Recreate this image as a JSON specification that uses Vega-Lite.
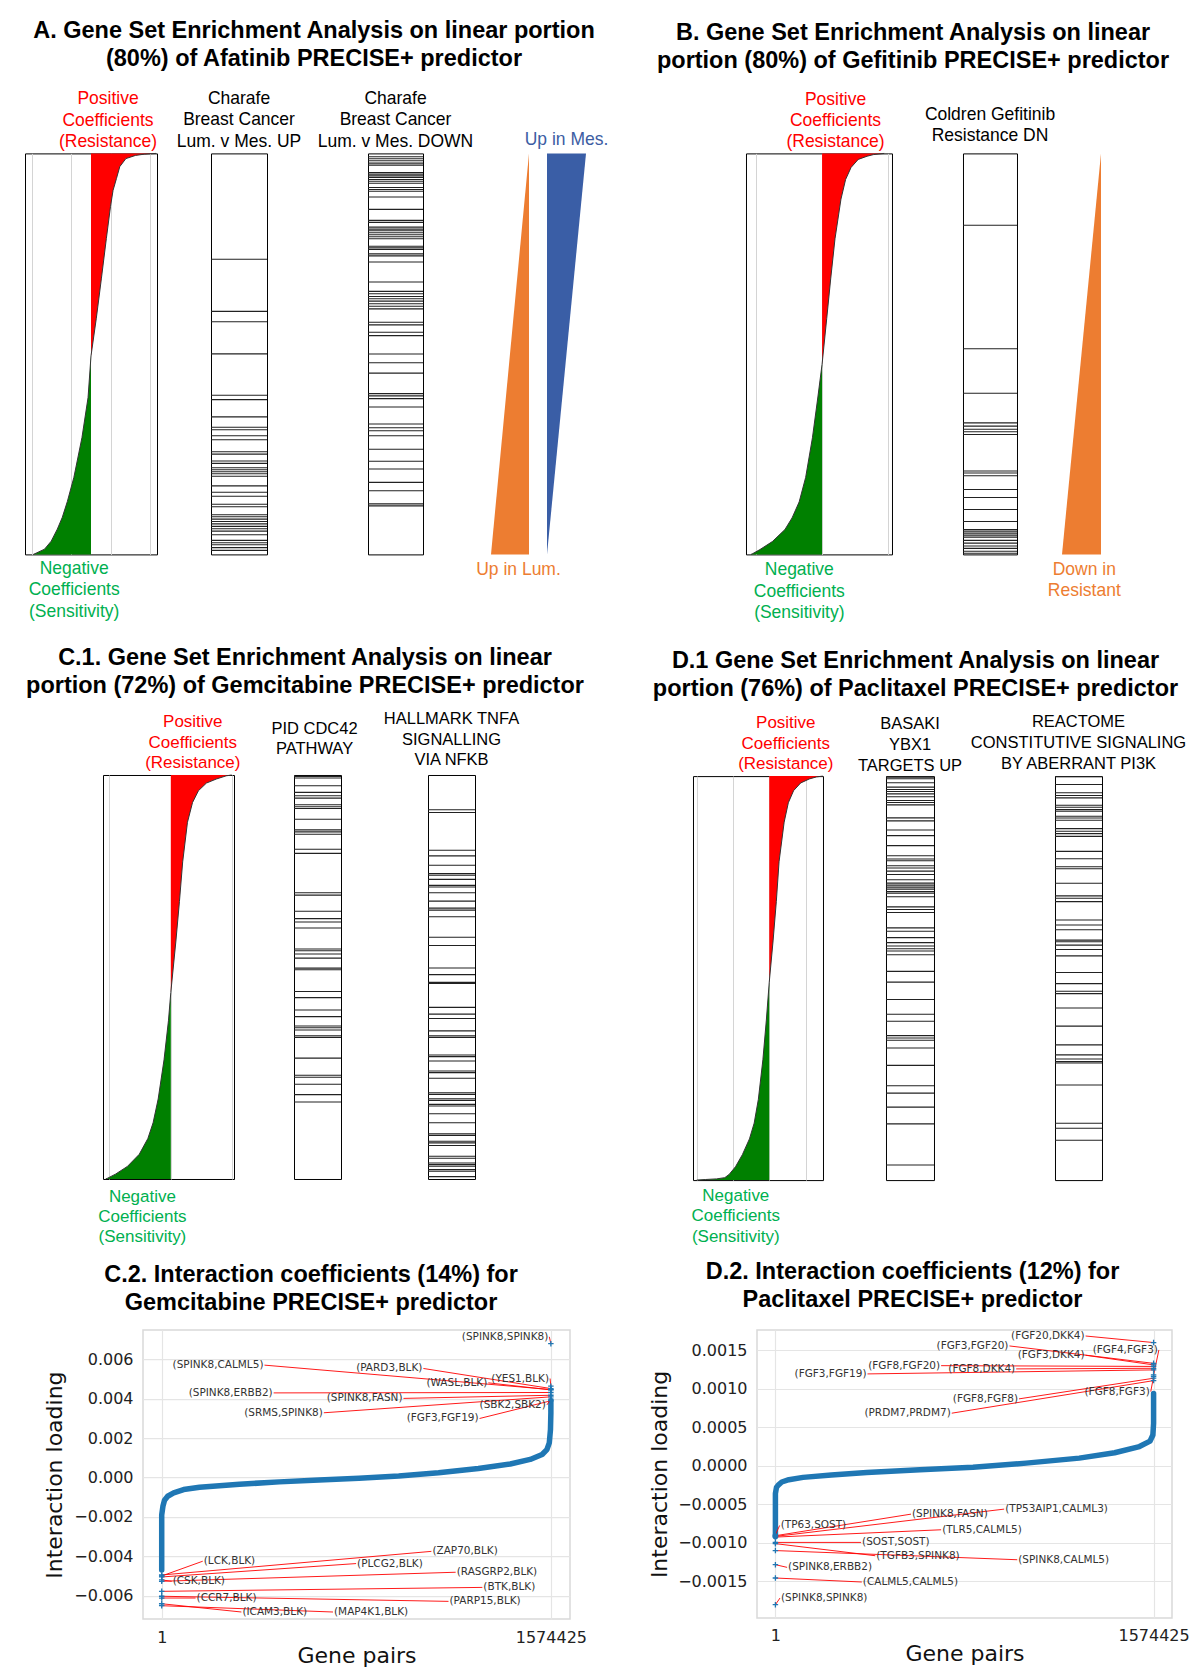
{
"$schema": "https://vega.github.io/schema/vega-lite/v6.json",
"padding": {"left": 8, "top": 18.4, "right": 2, "bottom": 2},
"background": "white",
"config": {
  "font": "Liberation Sans",
  "view": {"stroke": null},
  "title": {"font": "Liberation Sans", "color": "#000000", "fontWeight": "normal"}
},
"datasets": {
  "curveA": [{"rank":0,"coef":3.3},{"rank":0.2,"coef":2.7},{"rank":0.5,"coef":2.26},{"rank":1.3,"coef":1.77},{"rank":3.3,"coef":1.46},{"rank":6.3,"coef":1.29},{"rank":9.2,"coef":1.12},{"rank":13.2,"coef":0.99},{"rank":21.2,"coef":0.78},{"rank":31.1,"coef":0.53},{"rank":41.1,"coef":0.27},{"rank":50.5,"coef":0},{"rank":60.9,"coef":-0.15},{"rank":70.9,"coef":-0.46},{"rank":80.8,"coef":-0.87},{"rank":86.8,"coef":-1.2},{"rank":90.8,"coef":-1.46},{"rank":93.7,"coef":-1.71},{"rank":96.7,"coef":-2.02},{"rank":98.7,"coef":-2.36},{"rank":99.7,"coef":-2.79},{"rank":100,"coef":-2.93}],
  "curveB": [{"rank":0,"coef":3.75},{"rank":0.3,"coef":3.1},{"rank":0.7,"coef":2.72},{"rank":1.5,"coef":2.18},{"rank":3.5,"coef":1.75},{"rank":6.5,"coef":1.42},{"rank":11.4,"coef":1.14},{"rank":21.3,"coef":0.78},{"rank":31.3,"coef":0.52},{"rank":41.2,"coef":0.28},{"rank":52.6,"coef":0},{"rank":61.0,"coef":-0.26},{"rank":70.9,"coef":-0.58},{"rank":80.8,"coef":-0.99},{"rank":86.9,"coef":-1.38},{"rank":90.9,"coef":-1.81},{"rank":93.8,"coef":-2.24},{"rank":96.8,"coef":-3.0},{"rank":98.8,"coef":-3.75},{"rank":99.8,"coef":-4.18},{"rank":100,"coef":-4.29}],
  "curveC": [{"rank":0,"coef":3.95},{"rank":0.2,"coef":3.6},{"rank":1.0,"coef":2.95},{"rank":2.0,"coef":2.31},{"rank":3.9,"coef":1.79},{"rank":6.8,"coef":1.41},{"rank":11.7,"coef":1.08},{"rank":21.5,"coef":0.77},{"rank":31.3,"coef":0.56},{"rank":41.1,"coef":0.33},{"rank":53.8,"coef":0},{"rank":60.7,"coef":-0.15},{"rank":70.5,"coef":-0.44},{"rank":80.2,"coef":-0.82},{"rank":86.1,"coef":-1.15},{"rank":90.0,"coef":-1.49},{"rank":93.9,"coef":-2.05},{"rank":96.9,"coef":-2.82},{"rank":98.8,"coef":-3.59},{"rank":99.8,"coef":-4.1},{"rank":100,"coef":-4.23}],
  "curveD": [{"rank":0,"coef":2.95},{"rank":0.2,"coef":2.6},{"rank":0.7,"coef":2.21},{"rank":1.7,"coef":1.73},{"rank":3.6,"coef":1.34},{"rank":6.6,"coef":1.05},{"rank":11.4,"coef":0.82},{"rank":21.2,"coef":0.54},{"rank":31.0,"coef":0.39},{"rank":40.8,"coef":0.21},{"rank":51.0,"coef":0},{"rank":60.4,"coef":-0.16},{"rank":70.2,"coef":-0.35},{"rank":80.0,"coef":-0.6},{"rank":85.9,"coef":-0.83},{"rank":89.8,"coef":-1.09},{"rank":93.7,"coef":-1.48},{"rank":96.7,"coef":-1.86},{"rank":98.6,"coef":-2.21},{"rank":99.4,"coef":-2.45},{"rank":99.7,"coef":-2.9},{"rank":99.85,"coef":-3.5},{"rank":100,"coef":-4.0}],
  "charafeUp": [{"rank":26.4},{"rank":39.4},{"rank":42.0},{"rank":50.0},{"rank":60.3},{"rank":61.4},{"rank":65.7},{"rank":68.3},{"rank":68.9},{"rank":70.4},{"rank":71.4},{"rank":74.4},{"rank":75.0},{"rank":76.7},{"rank":77.3},{"rank":78.4},{"rank":78.9},{"rank":79.4},{"rank":79.9},{"rank":80.5},{"rank":82.9},{"rank":84.5},{"rank":85.5},{"rank":87.5},{"rank":88.1},{"rank":90.1},{"rank":90.6},{"rank":91.2},{"rank":91.8},{"rank":92.4},{"rank":93.0},{"rank":93.6},{"rank":94.2},{"rank":95.1},{"rank":96.5},{"rank":97.1},{"rank":97.6},{"rank":98.3},{"rank":99.0}],
  "charafeDown": [{"rank":0.84},{"rank":1.34},{"rank":1.84},{"rank":2.42},{"rank":2.92},{"rank":4.76},{"rank":5.18},{"rank":5.6},{"rank":6.02},{"rank":6.52},{"rank":6.93},{"rank":7.44},{"rank":8.52},{"rank":9.02},{"rank":9.44},{"rank":10.86},{"rank":13.95},{"rank":16.71},{"rank":17.21},{"rank":18.38},{"rank":18.88},{"rank":19.3},{"rank":19.8},{"rank":20.3},{"rank":20.8},{"rank":21.3},{"rank":23.14},{"rank":23.56},{"rank":23.98},{"rank":25.06},{"rank":25.56},{"rank":27.07},{"rank":32.08},{"rank":34.42},{"rank":35.0},{"rank":35.67},{"rank":36.26},{"rank":36.84},{"rank":37.51},{"rank":38.1},{"rank":38.76},{"rank":42.11},{"rank":42.77},{"rank":44.61},{"rank":45.45},{"rank":50.04},{"rank":52.21},{"rank":54.8},{"rank":59.9},{"rank":60.48},{"rank":61.15},{"rank":63.24},{"rank":67.5},{"rank":68.42},{"rank":69.17},{"rank":70.43},{"rank":73.77},{"rank":76.78},{"rank":78.7},{"rank":82.04},{"rank":84.13},{"rank":87.39},{"rank":87.89}],
  "coldren": [{"rank":17.9},{"rank":48.7},{"rank":59.8},{"rank":67.2},{"rank":68.0},{"rank":68.8},{"rank":69.4},{"rank":70.1},{"rank":79.2},{"rank":79.7},{"rank":80.4},{"rank":83.8},{"rank":85.8},{"rank":88.8},{"rank":91.8},{"rank":93.8},{"rank":94.2},{"rank":94.7},{"rank":95.2},{"rank":95.7},{"rank":96.5},{"rank":97.2},{"rank":97.9},{"rank":98.5},{"rank":99.2},{"rank":99.7}],
  "pidCdc42": [{"rank":0.33},{"rank":0.75},{"rank":2.65},{"rank":4.31},{"rank":5.14},{"rank":5.72},{"rank":7.37},{"rank":7.87},{"rank":8.29},{"rank":10.94},{"rank":13.59},{"rank":14.08},{"rank":14.66},{"rank":18.39},{"rank":19.39},{"rank":29.16},{"rank":29.74},{"rank":33.72},{"rank":35.54},{"rank":36.37},{"rank":37.86},{"rank":43.08},{"rank":43.5},{"rank":44.32},{"rank":45.32},{"rank":47.8},{"rank":48.22},{"rank":53.6},{"rank":55.1},{"rank":58.16},{"rank":59.82},{"rank":62.14},{"rank":62.55},{"rank":63.13},{"rank":64.54},{"rank":64.95},{"rank":70.09},{"rank":74.32},{"rank":74.81},{"rank":76.55},{"rank":79.12},{"rank":80.94}],
  "hallmarkTnfa": [{"rank":8.61},{"rank":9.27},{"rank":18.63},{"rank":20.03},{"rank":22.35},{"rank":24.42},{"rank":24.83},{"rank":25.83},{"rank":27.32},{"rank":27.73},{"rank":29.14},{"rank":31.21},{"rank":32.95},{"rank":33.44},{"rank":35.1},{"rank":40.15},{"rank":42.22},{"rank":47.77},{"rank":49.42},{"rank":51.32},{"rank":51.57},{"rank":57.53},{"rank":59.19},{"rank":60.26},{"rank":63.33},{"rank":64.57},{"rank":64.98},{"rank":69.29},{"rank":69.7},{"rank":70.78},{"rank":73.26},{"rank":73.68},{"rank":75.08},{"rank":78.64},{"rank":79.06},{"rank":80.13},{"rank":80.55},{"rank":81.54},{"rank":81.95},{"rank":83.86},{"rank":86.09},{"rank":88.82},{"rank":89.24},{"rank":90.65},{"rank":91.06},{"rank":91.72},{"rank":94.37},{"rank":94.87},{"rank":96.03},{"rank":96.44},{"rank":96.85},{"rank":97.68},{"rank":98.1},{"rank":99.42}],
  "basakiYbx1": [{"rank":0.25},{"rank":0.66},{"rank":1.66},{"rank":2.73},{"rank":3.31},{"rank":3.81},{"rank":4.39},{"rank":5.13},{"rank":6.04},{"rank":6.54},{"rank":7.12},{"rank":10.35},{"rank":11.09},{"rank":13.33},{"rank":14.74},{"rank":17.22},{"rank":19.7},{"rank":20.53},{"rank":20.94},{"rank":22.19},{"rank":22.76},{"rank":23.51},{"rank":24.34},{"rank":25.66},{"rank":26.49},{"rank":26.99},{"rank":27.48},{"rank":27.98},{"rank":28.56},{"rank":28.97},{"rank":29.88},{"rank":32.37},{"rank":33.03},{"rank":33.77},{"rank":37.58},{"rank":38.41},{"rank":39.98},{"rank":41.23},{"rank":42.05},{"rank":42.72},{"rank":43.29},{"rank":44.21},{"rank":48.34},{"rank":50.99},{"rank":55.3},{"rank":58.94},{"rank":60.68},{"rank":64.24},{"rank":64.82},{"rank":65.4},{"rank":67.3},{"rank":71.61},{"rank":76.66},{"rank":78.48},{"rank":81.95},{"rank":86.09},{"rank":96.27}],
  "reactomePi3k": [{"rank":0.17},{"rank":2.07},{"rank":4.14},{"rank":4.81},{"rank":5.39},{"rank":7.21},{"rank":7.71},{"rank":8.29},{"rank":8.7},{"rank":9.94},{"rank":10.36},{"rank":10.94},{"rank":13.01},{"rank":13.67},{"rank":14.25},{"rank":14.91},{"rank":18.64},{"rank":20.46},{"rank":22.45},{"rank":22.95},{"rank":26.51},{"rank":29.66},{"rank":30.24},{"rank":31.07},{"rank":35.63},{"rank":36.87},{"rank":38.03},{"rank":40.6},{"rank":41.01},{"rank":41.84},{"rank":42.92},{"rank":44.49},{"rank":48.63},{"rank":51.37},{"rank":53.27},{"rank":53.85},{"rank":57.41},{"rank":61.89},{"rank":66.53},{"rank":69.01},{"rank":70.01},{"rank":70.67},{"rank":71.0},{"rank":76.47},{"rank":85.92},{"rank":87.16},{"rank":90.14}],
  "gradients": [{"shape":"widensDown","level":0,"from":1,"to":1},{"shape":"widensDown","level":100,"from":0,"to":1},{"shape":"narrowsDown","level":0,"from":0,"to":1},{"shape":"narrowsDown","level":100,"from":0,"to":0}],
  "gemCurve": [{"pair":1,"loading":-0.0047},{"pair":2,"loading":-0.003},{"pair":3,"loading":-0.0019},{"pair":4836,"loading":-0.00146},{"pair":11281,"loading":-0.00115},{"pair":24173,"loading":-0.00095},{"pair":48346,"loading":-0.00078},{"pair":88634,"loading":-0.00061},{"pair":153094,"loading":-0.00049},{"pair":314243,"loading":-0.00034},{"pair":475393,"loading":-0.00022},{"pair":636543,"loading":-0.00012},{"pair":797693,"loading":-0.00003},{"pair":958843,"loading":0.00008},{"pair":1119993,"loading":0.00024},{"pair":1281143,"loading":0.00046},{"pair":1410063,"loading":0.00069},{"pair":1490638,"loading":0.00092},{"pair":1538983,"loading":0.00117},{"pair":1558321,"loading":0.00142},{"pair":1567990,"loading":0.00176},{"pair":1572825,"loading":0.00244},{"pair":1574424,"loading":0.0033},{"pair":1574425,"loading":0.0039}],
  "gemLabels": [
    {"label":"(SPINK8,SPINK8)","pair":1574425,"loading":0.0068,"label_pair":1567990,"label_loading":0.00715},
    {"label":"(SPINK8,CALML5)","pair":1574425,"loading":0.00447,"label_pair":415768,"label_loading":0.00571},
    {"label":"(PARD3,BLK)","pair":1574425,"loading":0.00452,"label_pair":1058757,"label_loading":0.00554},
    {"label":"(WASL,BLK)","pair":1574425,"loading":0.00445,"label_pair":1321431,"label_loading":0.00481},
    {"label":"(YES1,BLK)","pair":1574425,"loading":0.00464,"label_pair":1571201,"label_loading":0.00503},
    {"label":"(SPINK8,ERBB2)","pair":1574425,"loading":0.00432,"label_pair":452833,"label_loading":0.0043},
    {"label":"(SPINK8,FASN)","pair":1574425,"loading":0.00418,"label_pair":978167,"label_loading":0.00402},
    {"label":"(SRMS,SPINK8)","pair":1574425,"loading":0.0041,"label_pair":655882,"label_loading":0.00329},
    {"label":"(SBK2,SBK2)","pair":1574425,"loading":0.00398,"label_pair":1558321,"label_loading":0.00369},
    {"label":"(FGF3,FGF19)","pair":1574425,"loading":0.0039,"label_pair":1285977,"label_loading":0.003},
    {"label":"(ZAP70,BLK)","pair":1,"loading":-0.00495,"label_pair":1090987,"label_loading":-0.00375},
    {"label":"(LCK,BLK)","pair":1,"loading":-0.005,"label_pair":165985,"label_loading":-0.00425},
    {"label":"(PLCG2,BLK)","pair":1,"loading":-0.00505,"label_pair":786413,"label_loading":-0.00437},
    {"label":"(CSK,BLK)","pair":1,"loading":-0.0052,"label_pair":40290,"label_loading":-0.00527},
    {"label":"(RASGRP2,BLK)","pair":1,"loading":-0.00527,"label_pair":1189288,"label_loading":-0.00481},
    {"label":"(BTK,BLK)","pair":1,"loading":-0.00578,"label_pair":1297257,"label_loading":-0.00558},
    {"label":"(CCR7,BLK)","pair":1,"loading":-0.00612,"label_pair":136978,"label_loading":-0.00612},
    {"label":"(PARP15,BLK)","pair":1,"loading":-0.00603,"label_pair":1160281,"label_loading":-0.00629},
    {"label":"(ICAM3,BLK)","pair":1,"loading":-0.00641,"label_pair":322301,"label_loading":-0.00683},
    {"label":"(MAP4K1,BLK)","pair":1,"loading":-0.00651,"label_pair":692946,"label_loading":-0.00683}
  ],
  "ptxCurve": [{"pair":1,"loading":-0.00092},{"pair":2,"loading":-0.0006},{"pair":3,"loading":-0.00036},{"pair":4424,"loading":-0.00028},{"pair":11795,"loading":-0.00025},{"pair":26537,"loading":-0.00021},{"pair":56021,"loading":-0.00018},{"pair":114989,"loading":-0.00015},{"pair":232925,"loading":-0.00012},{"pair":380345,"loading":-0.000086},{"pair":601475,"loading":-0.000052},{"pair":822605,"loading":-0.000017},{"pair":1043735,"loading":0.000035},{"pair":1264865,"loading":0.0001},{"pair":1412285,"loading":0.00017},{"pair":1515479,"loading":0.00025},{"pair":1559705,"loading":0.00032},{"pair":1571498,"loading":0.0004},{"pair":1574423,"loading":0.00055},{"pair":1574424,"loading":0.00075},{"pair":1574425,"loading":0.00094}],
  "ptxLabels": [
    {"label":"(FGF20,DKK4)","pair":1574425,"loading":0.0016,"label_pair":1291380,"label_loading":0.001685},
    {"label":"(FGF3,FGF20)","pair":1574425,"loading":0.00133,"label_pair":974437,"label_loading":0.001556},
    {"label":"(FGF3,DKK4)","pair":1574425,"loading":0.00131,"label_pair":1291380,"label_loading":0.001435},
    {"label":"(FGF4,FGF3)","pair":1574425,"loading":0.00118,"label_pair":1596560,"label_loading":0.001504},
    {"label":"(FGF8,FGF20)","pair":1574425,"loading":0.00129,"label_pair":689919,"label_loading":0.0013},
    {"label":"(FGF8,DKK4)","pair":1574425,"loading":0.001266,"label_pair":1002449,"label_loading":0.001258},
    {"label":"(FGF3,FGF19)","pair":1574425,"loading":0.001245,"label_pair":383293,"label_loading":0.001193},
    {"label":"(FGF8,FGF8)","pair":1574425,"loading":0.001137,"label_pair":1014242,"label_loading":0.000869},
    {"label":"(PRDM7,PRDM7)","pair":1574425,"loading":0.001106,"label_pair":734153,"label_loading":0.000683},
    {"label":"(FGF8,FGF3)","pair":1574425,"loading":0.00116,"label_pair":1562653,"label_loading":0.000964},
    {"label":"(TP53AIP1,CALML3)","pair":1,"loading":-0.000916,"label_pair":952334,"label_loading":-0.000562},
    {"label":"(SPINK8,FASN)","pair":1,"loading":-0.000907,"label_pair":564620,"label_loading":-0.000627},
    {"label":"(TP63,SOST)","pair":1,"loading":-0.000895,"label_pair":17691,"label_loading":-0.000774},
    {"label":"(TLR5,CALML5)","pair":1,"loading":-0.000925,"label_pair":689920,"label_loading":-0.00083},
    {"label":"(SOST,SOST)","pair":1,"loading":-0.000994,"label_pair":356757,"label_loading":-0.000994},
    {"label":"(TGFB3,SPINK8)","pair":1,"loading":-0.00101,"label_pair":415725,"label_loading":-0.001167},
    {"label":"(SPINK8,CALML5)","pair":1,"loading":-0.0011,"label_pair":1006872,"label_loading":-0.001219},
    {"label":"(SPINK8,ERBB2)","pair":1,"loading":-0.001283,"label_pair":48650,"label_loading":-0.001318},
    {"label":"(CALML5,CALML5)","pair":1,"loading":-0.001456,"label_pair":359706,"label_loading":-0.001508},
    {"label":"(SPINK8,SPINK8)","pair":1,"loading":-0.001802,"label_pair":19165,"label_loading":-0.001716}
  ]
},
"spacing": 21,
"hconcat": [
 {
  "spacing": 24.6,
  "vconcat": [
   {
    "title": {"text": ["A. Gene Set Enrichment Analysis on linear portion", "(80%) of Afatinib PRECISE+ predictor"], "anchor": "middle", "fontSize": 23.5, "fontWeight": "bold", "lineHeight": 28, "offset": 19.3},
    "bounds": "flush", "spacing": 0,
    "hconcat": [
     {"width": 17, "height": 401, "data": {"values": []}, "mark": "point"},
     {"width": 132, "height": 401, "view": {"stroke": "#000000", "strokeWidth": 1},
      "title": {"text": ["Positive", "Coefficients", "(Resistance)"], "color": "#ff0000", "fontSize": 17.5, "lineHeight": 21.5, "dx": 17, "offset": 0.8},
      "data": {"name": "curveA"},
      "encoding": {"y": {"field": "rank", "type": "quantitative", "scale": {"domain": [0, 100], "reverse": true, "nice": false, "zero": false}, "axis": null}},
      "layer": [
       {"transform": [{"filter": "datum.coef >= 0"}], "mark": {"type": "area", "orient": "horizontal", "color": "#ff0000"},
        "encoding": {"x": {"field": "coef", "type": "quantitative", "scale": {"domain": [-3.35, 3.35], "nice": false, "zero": false},
          "axis": {"values": [-3, -2, -1, 0, 1, 2, 3], "grid": true, "gridColor": "#d4d4d4", "labels": false, "ticks": false, "domain": false, "title": ["Negative", "Coefficients", "(Sensitivity)"], "titleColor": "#00b050", "titleFont": "Liberation Sans", "titleFontSize": 17.5, "titleFontWeight": "normal", "titleLineHeight": 21.5, "titleAlign": "center", "titleBaseline": "top", "titleX": 48.7, "titleY": 5}},
         "x2": {"datum": 0}}},
       {"transform": [{"filter": "datum.coef <= 0"}], "mark": {"type": "area", "orient": "horizontal", "color": "#008000"},
        "encoding": {"x": {"field": "coef", "type": "quantitative"}, "x2": {"datum": 0}}},
       {"mark": {"type": "line", "color": "#333333", "strokeWidth": 1},
        "encoding": {"x": {"field": "coef", "type": "quantitative"}, "order": {"field": "rank", "type": "quantitative"}}}
      ]},
     {"width": 54, "height": 401, "data": {"values": []}, "mark": "point"},
     {"width": 56, "height": 401, "view": {"stroke": "#000000", "strokeWidth": 1},
      "title": {"text": ["Charafe", "Breast Cancer", "Lum. v Mes. UP"], "fontSize": 17.5, "lineHeight": 21.5, "offset": 3},
      "data": {"name": "charafeUp"},
      "mark": {"type": "rule", "color": "#222222", "strokeWidth": 1.1},
      "encoding": {"y": {"field": "rank", "type": "quantitative", "scale": {"domain": [0, 100], "reverse": true, "nice": false, "zero": false}, "axis": null}}},
     {"width": 101, "height": 401, "data": {"values": []}, "mark": "point"},
     {"width": 55, "height": 401, "view": {"stroke": "#000000", "strokeWidth": 1},
      "title": {"text": ["Charafe", "Breast Cancer", "Lum. v Mes. DOWN"], "fontSize": 17.5, "lineHeight": 21.5, "offset": 3},
      "data": {"name": "charafeDown"},
      "mark": {"type": "rule", "color": "#222222", "strokeWidth": 1.1},
      "encoding": {"y": {"field": "rank", "type": "quantitative", "scale": {"domain": [0, 100], "reverse": true, "nice": false, "zero": false}, "axis": null}}},
     {"width": 68, "height": 401, "data": {"values": []}, "mark": "point"},
     {"width": 38, "height": 401,
      "data": {"name": "gradients"},
      "transform": [{"filter": "datum.shape === 'widensDown'"}],
      "mark": {"type": "area", "orient": "horizontal", "color": "#ed7d31"},
      "encoding": {
       "y": {"field": "level", "type": "quantitative", "scale": {"domain": [0, 100], "reverse": true, "nice": false, "zero": false}, "axis": null},
       "x": {"field": "from", "type": "quantitative", "scale": {"domain": [0, 1], "nice": false}, "axis": {"labels": false, "ticks": false, "domain": false, "grid": false, "title": "Up in Lum.", "titleColor": "#ed7d31", "titleFont": "Liberation Sans", "titleFontSize": 17.5, "titleFontWeight": "normal", "titleAlign": "center", "titleBaseline": "top", "titleX": 27, "titleY": 6}},
       "x2": {"field": "to"}}},
     {"width": 18, "height": 401, "data": {"values": []}, "mark": "point"},
     {"width": 39, "height": 401,
      "title": {"text": "Up in Mes.", "color": "#3c5da3", "fontSize": 17.5, "offset": 5},
      "data": {"name": "gradients"},
      "transform": [{"filter": "datum.shape === 'narrowsDown'"}],
      "mark": {"type": "area", "orient": "horizontal", "color": "#3a5ea6"},
      "encoding": {
       "y": {"field": "level", "type": "quantitative", "scale": {"domain": [0, 100], "reverse": true, "nice": false, "zero": false}, "axis": null},
       "x": {"field": "from", "type": "quantitative", "scale": {"domain": [0, 1], "nice": false}, "axis": null},
       "x2": {"field": "to"}}},
     {"width": 34, "height": 401, "data": {"values": []}, "mark": "point"}
    ]
   },
   {
    "spacing": 17.1,
    "vconcat": [
     {
      "title": {"text": ["C.1. Gene Set Enrichment Analysis on linear", "portion (72%) of Gemcitabine PRECISE+ predictor"], "anchor": "middle", "fontSize": 23.5, "fontWeight": "bold", "lineHeight": 28, "offset": 13.7, "dx": -9},
      "bounds": "flush", "spacing": 0,
      "hconcat": [
       {"width": 95, "height": 404, "data": {"values": []}, "mark": "point"},
       {"width": 131, "height": 404, "view": {"stroke": "#000000", "strokeWidth": 1},
        "title": {"text": ["Positive", "Coefficients", "(Resistance)"], "color": "#ff0000", "fontSize": 17, "lineHeight": 20.5, "dx": 24.3, "offset": 0.8},
        "data": {"name": "curveC"},
        "encoding": {"y": {"field": "rank", "type": "quantitative", "scale": {"domain": [0, 100], "reverse": true, "nice": false, "zero": false}, "axis": null}},
        "layer": [
         {"transform": [{"filter": "datum.coef >= 0"}], "mark": {"type": "area", "orient": "horizontal", "color": "#ff0000"},
          "encoding": {"x": {"field": "coef", "type": "quantitative", "scale": {"domain": [-4.4, 4.1], "nice": false, "zero": false},
            "axis": {"values": [-4, -3, -2, -1, 0, 1, 2, 3, 4], "grid": true, "gridColor": "#d4d4d4", "labels": false, "ticks": false, "domain": false, "title": ["Negative", "Coefficients", "(Sensitivity)"], "titleColor": "#00b050", "titleFont": "Liberation Sans", "titleFontSize": 17, "titleFontWeight": "normal", "titleLineHeight": 20.4, "titleAlign": "center", "titleBaseline": "top", "titleX": 38.9, "titleY": 9.2}},
           "x2": {"datum": 0}}},
         {"transform": [{"filter": "datum.coef <= 0"}], "mark": {"type": "area", "orient": "horizontal", "color": "#008000"},
          "encoding": {"x": {"field": "coef", "type": "quantitative"}, "x2": {"datum": 0}}},
         {"mark": {"type": "line", "color": "#333333", "strokeWidth": 1},
          "encoding": {"x": {"field": "coef", "type": "quantitative"}, "order": {"field": "rank", "type": "quantitative"}}}
        ]},
       {"width": 60, "height": 404, "data": {"values": []}, "mark": "point"},
       {"width": 47, "height": 404, "view": {"stroke": "#000000", "strokeWidth": 1},
        "title": {"text": ["PID CDC42", "PATHWAY"], "fontSize": 16.5, "lineHeight": 20, "offset": 17, "dx": -3},
        "data": {"name": "pidCdc42"},
        "mark": {"type": "rule", "color": "#222222", "strokeWidth": 1.1},
        "encoding": {"y": {"field": "rank", "type": "quantitative", "scale": {"domain": [0, 100], "reverse": true, "nice": false, "zero": false}, "axis": null}}},
       {"width": 87, "height": 404, "data": {"values": []}, "mark": "point"},
       {"width": 47, "height": 404, "view": {"stroke": "#000000", "strokeWidth": 1},
        "title": {"text": ["HALLMARK TNFA", "SIGNALLING", "VIA NFKB"], "fontSize": 16.5, "lineHeight": 20.5, "offset": 6},
        "data": {"name": "hallmarkTnfa"},
        "mark": {"type": "rule", "color": "#222222", "strokeWidth": 1.1},
        "encoding": {"y": {"field": "rank", "type": "quantitative", "scale": {"domain": [0, 100], "reverse": true, "nice": false, "zero": false}, "axis": null}}},
       {"width": 145, "height": 404, "data": {"values": []}, "mark": "point"}
      ]
     },
     {
      "title": {"text": ["C.2. Interaction coefficients (14%) for", "Gemcitabine PRECISE+ predictor"], "anchor": "middle", "fontSize": 23.5, "fontWeight": "bold", "lineHeight": 27.3, "offset": 15.3, "dx": -3},
      "bounds": "flush", "spacing": 0,
      "hconcat": [
       {"width": 135, "height": 289, "data": {"values": []}, "mark": "point"},
       {"width": 427, "height": 289, "view": {"stroke": "#d9d9d9", "strokeWidth": 1.5},
        "encoding": {
         "x": {"field": "pair", "type": "quantitative", "title": "Gene pairs", "scale": {"domain": [-75700, 1651800], "nice": false, "zero": false},
          "axis": {"values": [1, 1574425], "format": "d", "grid": true, "gridColor": "#e5e5e5", "gridWidth": 1.2, "ticks": false, "domain": false, "labelFont": "DejaVu Sans", "labelFontSize": 16, "labelColor": "#222222", "labelPadding": 10, "labelFlush": false, "titleFont": "DejaVu Sans", "titleFontSize": 22, "titleFontWeight": "normal", "titleColor": "#111111", "titlePadding": 0}},
         "y": {"field": "loading", "type": "quantitative", "title": "Interaction loading", "scale": {"domain": [-0.00719, 0.00749], "nice": false, "zero": false},
          "axis": {"values": [-0.006, -0.004, -0.002, 0, 0.002, 0.004, 0.006], "format": ".3f", "grid": true, "gridColor": "#e5e5e5", "gridWidth": 1.2, "ticks": false, "domain": false, "labelFont": "DejaVu Sans", "labelFontSize": 16, "labelColor": "#222222", "labelPadding": 10, "titleFont": "DejaVu Sans", "titleFontSize": 22, "titleFontWeight": "normal", "titleColor": "#111111", "titlePadding": 7}}
        },
        "layer": [
         {"data": {"name": "gemCurve"}, "mark": {"type": "line", "color": "#1f77b4", "strokeWidth": 5.5, "strokeCap": "round", "strokeJoin": "round"}, "encoding": {"order": {"field": "pair", "type": "quantitative"}}},
         {"data": {"name": "gemLabels"}, "mark": {"type": "rule", "color": "#ff0000", "strokeWidth": 0.9},
          "encoding": {"x": {"field": "label_pair", "type": "quantitative", "title": "Gene pairs"}, "y": {"field": "label_loading", "type": "quantitative", "title": "Interaction loading"}, "x2": {"field": "pair"}, "y2": {"field": "loading"}}},
         {"data": {"name": "gemLabels"}, "mark": {"type": "point", "shape": "M-1,0L1,0M0,-1L0,1", "filled": false, "color": "#1f77b4", "size": 30, "strokeWidth": 1.3, "opacity": 1}},
         {"data": {"name": "gemLabels"}, "transform": [{"filter": "datum.loading > 0"}],
          "mark": {"type": "text", "align": "right", "baseline": "middle", "font": "DejaVu Sans", "fontSize": 10.5, "color": "#333333", "dx": -1},
          "encoding": {"x": {"field": "label_pair", "type": "quantitative", "title": "Gene pairs"}, "y": {"field": "label_loading", "type": "quantitative", "title": "Interaction loading"}, "text": {"field": "label"}}},
         {"data": {"name": "gemLabels"}, "transform": [{"filter": "datum.loading < 0"}],
          "mark": {"type": "text", "align": "left", "baseline": "middle", "font": "DejaVu Sans", "fontSize": 10.5, "color": "#333333", "dx": 1},
          "encoding": {"x": {"field": "label_pair", "type": "quantitative", "title": "Gene pairs"}, "y": {"field": "label_loading", "type": "quantitative", "title": "Interaction loading"}, "text": {"field": "label"}}}
        ]},
       {"width": 50, "height": 289, "data": {"values": []}, "mark": "point"}
      ]
     }
    ]
   }
  ]
 },
 {
  "spacing": 27.7,
  "vconcat": [
   {
    "title": {"text": ["B. Gene Set Enrichment Analysis on linear", "portion (80%) of Gefitinib PRECISE+ predictor"], "anchor": "middle", "fontSize": 23.5, "fontWeight": "bold", "lineHeight": 28, "offset": 17.9, "dx": -2.5},
    "bounds": "flush", "spacing": 0,
    "hconcat": [
     {"width": 105, "height": 401, "data": {"values": []}, "mark": "point"},
     {"width": 146, "height": 401, "view": {"stroke": "#000000", "strokeWidth": 1},
      "title": {"text": ["Positive", "Coefficients", "(Resistance)"], "color": "#ff0000", "fontSize": 17.5, "lineHeight": 21.2, "dx": 16.5, "offset": 0.8},
      "data": {"name": "curveB"},
      "encoding": {"y": {"field": "rank", "type": "quantitative", "scale": {"domain": [0, 100], "reverse": true, "nice": false, "zero": false}, "axis": null}},
      "layer": [
       {"transform": [{"filter": "datum.coef >= 0"}], "mark": {"type": "area", "orient": "horizontal", "color": "#ff0000"},
        "encoding": {"x": {"field": "coef", "type": "quantitative", "scale": {"domain": [-4.59, 4.22], "nice": false, "zero": false},
          "axis": {"values": [-4, -3, -2, -1, 0, 1, 2, 3, 4], "grid": true, "gridColor": "#d4d4d4", "labels": false, "ticks": false, "domain": false, "title": ["Negative", "Coefficients", "(Sensitivity)"], "titleColor": "#00b050", "titleFont": "Liberation Sans", "titleFontSize": 17.5, "titleFontWeight": "normal", "titleLineHeight": 21.2, "titleAlign": "center", "titleBaseline": "top", "titleX": 52.8, "titleY": 6.5}},
         "x2": {"datum": 0}}},
       {"transform": [{"filter": "datum.coef <= 0"}], "mark": {"type": "area", "orient": "horizontal", "color": "#008000"},
        "encoding": {"x": {"field": "coef", "type": "quantitative"}, "x2": {"datum": 0}}},
       {"mark": {"type": "line", "color": "#333333", "strokeWidth": 1},
        "encoding": {"x": {"field": "coef", "type": "quantitative"}, "order": {"field": "rank", "type": "quantitative"}}}
      ]},
     {"width": 71, "height": 401, "data": {"values": []}, "mark": "point"},
     {"width": 54, "height": 401, "view": {"stroke": "#000000", "strokeWidth": 1},
      "title": {"text": ["Coldren Gefitinib", "Resistance DN"], "fontSize": 17.5, "lineHeight": 21, "offset": 9},
      "data": {"name": "coldren"},
      "mark": {"type": "rule", "color": "#222222", "strokeWidth": 1.1},
      "encoding": {"y": {"field": "rank", "type": "quantitative", "scale": {"domain": [0, 100], "reverse": true, "nice": false, "zero": false}, "axis": null}}},
     {"width": 45, "height": 401, "data": {"values": []}, "mark": "point"},
     {"width": 39, "height": 401,
      "data": {"name": "gradients"},
      "transform": [{"filter": "datum.shape === 'widensDown'"}],
      "mark": {"type": "area", "orient": "horizontal", "color": "#ed7d31"},
      "encoding": {
       "y": {"field": "level", "type": "quantitative", "scale": {"domain": [0, 100], "reverse": true, "nice": false, "zero": false}, "axis": null},
       "x": {"field": "from", "type": "quantitative", "scale": {"domain": [0, 1], "nice": false}, "axis": {"labels": false, "ticks": false, "domain": false, "grid": false, "title": ["Down in", "Resistant"], "titleColor": "#ed7d31", "titleFont": "Liberation Sans", "titleFontSize": 17.5, "titleFontWeight": "normal", "titleLineHeight": 20.7, "titleAlign": "center", "titleBaseline": "top", "titleX": 21.8, "titleY": 6}},
       "x2": {"field": "to"}}},
     {"width": 89, "height": 401, "data": {"values": []}, "mark": "point"}
    ]
   },
   {
    "spacing": 14.9,
    "vconcat": [
     {
      "title": {"text": ["D.1 Gene Set Enrichment Analysis on linear", "portion (76%) of Paclitaxel PRECISE+ predictor"], "anchor": "middle", "fontSize": 23.5, "fontWeight": "bold", "lineHeight": 28, "offset": 12.5},
      "bounds": "flush", "spacing": 0,
      "hconcat": [
       {"width": 52, "height": 404, "data": {"values": []}, "mark": "point"},
       {"width": 130, "height": 404, "view": {"stroke": "#000000", "strokeWidth": 1},
        "title": {"text": ["Positive", "Coefficients", "(Resistance)"], "color": "#ff0000", "fontSize": 17, "lineHeight": 20.6, "dx": 27.8, "offset": 0.8},
        "data": {"name": "curveD"},
        "encoding": {"y": {"field": "rank", "type": "quantitative", "scale": {"domain": [0, 100], "reverse": true, "nice": false, "zero": false}, "axis": null}},
        "layer": [
         {"transform": [{"filter": "datum.coef >= 0"}], "mark": {"type": "area", "orient": "horizontal", "color": "#ff0000"},
          "encoding": {"x": {"field": "coef", "type": "quantitative", "scale": {"domain": [-4.2, 2.96], "nice": false, "zero": false},
            "axis": {"values": [-4, -3, -2, -1, 0, 1, 2], "grid": true, "gridColor": "#d4d4d4", "labels": false, "ticks": false, "domain": false, "title": ["Negative", "Coefficients", "(Sensitivity)"], "titleColor": "#00b050", "titleFont": "Liberation Sans", "titleFontSize": 17, "titleFontWeight": "normal", "titleLineHeight": 20.4, "titleAlign": "center", "titleBaseline": "top", "titleX": 42.3, "titleY": 7.3}},
           "x2": {"datum": 0}}},
         {"transform": [{"filter": "datum.coef <= 0"}], "mark": {"type": "area", "orient": "horizontal", "color": "#008000"},
          "encoding": {"x": {"field": "coef", "type": "quantitative"}, "x2": {"datum": 0}}},
         {"mark": {"type": "line", "color": "#333333", "strokeWidth": 1},
          "encoding": {"x": {"field": "coef", "type": "quantitative"}, "order": {"field": "rank", "type": "quantitative"}}}
        ]},
       {"width": 63, "height": 404, "data": {"values": []}, "mark": "point"},
       {"width": 48, "height": 404, "view": {"stroke": "#000000", "strokeWidth": 1},
        "title": {"text": ["BASAKI", "YBX1", "TARGETS UP"], "fontSize": 16.5, "lineHeight": 20.6, "offset": 1.9},
        "data": {"name": "basakiYbx1"},
        "mark": {"type": "rule", "color": "#222222", "strokeWidth": 1.1},
        "encoding": {"y": {"field": "rank", "type": "quantitative", "scale": {"domain": [0, 100], "reverse": true, "nice": false, "zero": false}, "axis": null}}},
       {"width": 121, "height": 404, "data": {"values": []}, "mark": "point"},
       {"width": 47, "height": 404, "view": {"stroke": "#000000", "strokeWidth": 1},
        "title": {"text": ["REACTOME", "CONSTITUTIVE SIGNALING", "BY ABERRANT PI3K"], "fontSize": 16.5, "lineHeight": 20.8, "offset": 4},
        "data": {"name": "reactomePi3k"},
        "mark": {"type": "rule", "color": "#222222", "strokeWidth": 1.1},
        "encoding": {"y": {"field": "rank", "type": "quantitative", "scale": {"domain": [0, 100], "reverse": true, "nice": false, "zero": false}, "axis": null}}},
       {"width": 88, "height": 404, "data": {"values": []}, "mark": "point"}
      ]
     },
     {
      "title": {"text": ["D.2. Interaction coefficients (12%) for", "Paclitaxel PRECISE+ predictor"], "anchor": "middle", "fontSize": 23.5, "fontWeight": "bold", "lineHeight": 28, "offset": 17.7, "dx": -3},
      "bounds": "flush", "spacing": 0,
      "hconcat": [
       {"width": 116, "height": 288, "data": {"values": []}, "mark": "point"},
       {"width": 415, "height": 288, "view": {"stroke": "#d9d9d9", "strokeWidth": 1.5},
        "encoding": {
         "x": {"field": "pair", "type": "quantitative", "title": "Gene pairs", "scale": {"domain": [-76657, 1651083], "nice": false, "zero": false},
          "axis": {"values": [1, 1574425], "format": "d", "grid": true, "gridColor": "#e5e5e5", "gridWidth": 1.2, "ticks": false, "domain": false, "labelFont": "DejaVu Sans", "labelFontSize": 16, "labelColor": "#222222", "labelPadding": 10, "labelFlush": false, "titleFont": "DejaVu Sans", "titleFontSize": 22, "titleFontWeight": "normal", "titleColor": "#111111", "titlePadding": 0}},
         "y": {"field": "loading", "type": "quantitative", "title": "Interaction loading", "scale": {"domain": [-0.001975, 0.001763], "nice": false, "zero": false},
          "axis": {"values": [-0.0015, -0.001, -0.0005, 0, 0.0005, 0.001, 0.0015], "format": ".4f", "grid": true, "gridColor": "#e5e5e5", "gridWidth": 1.2, "ticks": false, "domain": false, "labelFont": "DejaVu Sans", "labelFontSize": 16, "labelColor": "#222222", "labelPadding": 10, "titleFont": "DejaVu Sans", "titleFontSize": 22, "titleFontWeight": "normal", "titleColor": "#111111", "titlePadding": 6}}
        },
        "layer": [
         {"data": {"name": "ptxCurve"}, "mark": {"type": "line", "color": "#1f77b4", "strokeWidth": 5.5, "strokeCap": "round", "strokeJoin": "round"}, "encoding": {"order": {"field": "pair", "type": "quantitative"}}},
         {"data": {"name": "ptxLabels"}, "mark": {"type": "rule", "color": "#ff0000", "strokeWidth": 0.9},
          "encoding": {"x": {"field": "label_pair", "type": "quantitative", "title": "Gene pairs"}, "y": {"field": "label_loading", "type": "quantitative", "title": "Interaction loading"}, "x2": {"field": "pair"}, "y2": {"field": "loading"}}},
         {"data": {"name": "ptxLabels"}, "mark": {"type": "point", "shape": "M-1,0L1,0M0,-1L0,1", "filled": false, "color": "#1f77b4", "size": 30, "strokeWidth": 1.3, "opacity": 1}},
         {"data": {"name": "ptxLabels"}, "transform": [{"filter": "datum.loading > 0"}],
          "mark": {"type": "text", "align": "right", "baseline": "middle", "font": "DejaVu Sans", "fontSize": 10.5, "color": "#333333", "dx": -1},
          "encoding": {"x": {"field": "label_pair", "type": "quantitative", "title": "Gene pairs"}, "y": {"field": "label_loading", "type": "quantitative", "title": "Interaction loading"}, "text": {"field": "label"}}},
         {"data": {"name": "ptxLabels"}, "transform": [{"filter": "datum.loading < 0"}],
          "mark": {"type": "text", "align": "left", "baseline": "middle", "font": "DejaVu Sans", "fontSize": 10.5, "color": "#333333", "dx": 1},
          "encoding": {"x": {"field": "label_pair", "type": "quantitative", "title": "Gene pairs"}, "y": {"field": "label_loading", "type": "quantitative", "title": "Interaction loading"}, "text": {"field": "label"}}}
        ]},
       {"width": 18, "height": 288, "data": {"values": []}, "mark": "point"}
      ]
     }
    ]
   }
  ]
 }
]
}
